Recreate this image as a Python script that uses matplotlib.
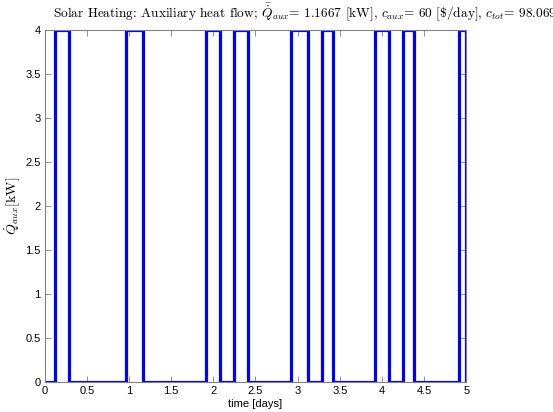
"""
Solar heating: auxiliary heat flow over five days (on/off step profile).
"""

import numpy as np
import matplotlib
matplotlib.use("Agg")
import matplotlib.pyplot as plt

# switch-on / switch-off times of the auxiliary heater [days]
ON_TIMES = [0.125, 0.958, 1.917, 2.250, 2.917, 3.292, 3.917, 4.250, 4.917]
OFF_TIMES = [0.292, 1.167, 2.083, 2.417, 3.125, 3.417, 4.083, 4.375, 5.000]
Q_ON = 4.0  # kW
Q_OFF = 0.0

X_TICKS = [0, 0.5, 1, 1.5, 2, 2.5, 3, 3.5, 4, 4.5, 5]
X_TICK_LABELS = ["0", "0.5", "1", "1.5", "2", "2.5", "3", "3.5", "4", "4.5", "5"]
Y_TICKS = [0, 0.5, 1, 1.5, 2, 2.5, 3, 3.5, 4]
Y_TICK_LABELS = ["0", "0.5", "1", "1.5", "2", "2.5", "3", "3.5", "4"]

TITLE = (r"Solar Heating: Auxiliary heat flow; $\bar{\dot{Q}}_{aux}$= 1.1667 [kW], "
         r"$c_{aux}$= 60 [\$/day], $c_{tot}$= 98.0694 [\$/day]")


def build_profile(on_times, off_times):
    """Turn on/off times into a step series starting at t=0."""
    t = [0.0]
    q = [Q_OFF]
    for t_on, t_off in zip(on_times, off_times):
        t += [t_on, t_on, t_off, t_off]
        q += [Q_OFF, Q_ON, Q_ON, Q_OFF]
    return np.array(t), np.array(q)


def plot_profile():
    plt.rcParams["mathtext.fontset"] = "cm"
    fig = plt.figure(figsize=(5.53, 4.12), dpi=100)
    ax = fig.add_axes([0.081, 0.073, 0.762, 0.854])

    t, q = build_profile(ON_TIMES, OFF_TIMES)
    ax.plot(t, q, color="#0000ff", linewidth=2.3, solid_joinstyle="miter")

    ax.set_xlim(0, 5)
    ax.set_ylim(0, 4)
    ax.set_xticks(X_TICKS)
    ax.set_xticklabels(X_TICK_LABELS)
    ax.set_yticks(Y_TICKS)
    ax.set_yticklabels(Y_TICK_LABELS)
    ax.tick_params(direction="in", top=True, right=True, length=4,
                   width=0.6, color="#808080", labelsize=8, pad=3,
                   labelfontfamily="Liberation Sans")
    for s in ax.spines.values():
        s.set_color("#808080")
        s.set_linewidth(0.8)

    ax.set_xlabel("time [days]", fontsize=8, family="Liberation Sans", labelpad=2)
    ax.set_ylabel(r"$\dot{Q}_{aux}$[kW]", fontsize=10, family="cmr10", labelpad=2)

    # the title runs past the right edge of the figure, as in the original
    fig.text(53 / 553, 1 - 17 / 412, TITLE, fontsize=9.6, family="cmr10",
             ha="left", va="baseline")

    fig.savefig("out.png", dpi=100)


if __name__ == "__main__":
    plot_profile()
